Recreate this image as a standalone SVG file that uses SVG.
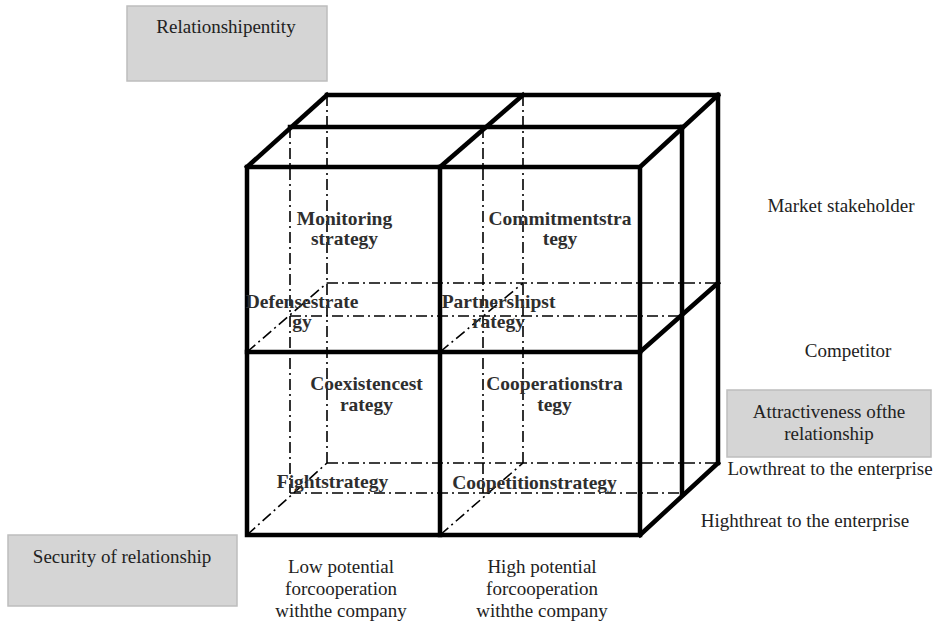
<svg xmlns="http://www.w3.org/2000/svg" width="941" height="625" viewBox="0 0 941 625">
  <style>
    .edge { stroke: #000; stroke-width: 4.5; fill: none; stroke-linecap: square; stroke-linejoin: miter; }
    .hidden { stroke: #000; stroke-width: 1.6; fill: none; stroke-dasharray: 11 4 2 4; }
    .cell { font-family: "Liberation Serif", "Times New Roman", serif; font-weight: bold; font-size: 19.5px; fill: #2e2e2e; text-anchor: middle; }
    .label { font-family: "Liberation Serif", "Times New Roman", serif; font-size: 19px; fill: #222; text-anchor: middle; }
    .box { fill: #d5d5d5; stroke: #bdbdbd; stroke-width: 1.5; }
  </style>

  <!-- cube: hidden (dash-dot) edges first, visible thick edges on top -->
  <g id="connectors">
    <g id="hidden-edges">
      <!-- back layer -->
      <line class="hidden" x1="327" y1="95" x2="327" y2="463"/>
      <line class="hidden" x1="523" y1="95" x2="523" y2="463"/>
      <line class="hidden" x1="327" y1="283" x2="718" y2="283"/>
      <line class="hidden" x1="327" y1="463" x2="718" y2="463"/>
      <!-- middle layer -->
      <line class="hidden" x1="290" y1="127" x2="290" y2="493"/>
      <line class="hidden" x1="483" y1="127" x2="483" y2="493"/>
      <line class="hidden" x1="290" y1="316" x2="682" y2="316"/>
      <line class="hidden" x1="290" y1="493" x2="682" y2="493"/>
      <!-- receding diagonals -->
      <line class="hidden" x1="247" y1="352" x2="327" y2="283"/>
      <line class="hidden" x1="440" y1="352" x2="523" y2="283"/>
      <line class="hidden" x1="247" y1="535" x2="327" y2="463"/>
      <line class="hidden" x1="440" y1="535" x2="523" y2="463"/>
    </g>
    <g id="visible-edges">
      <!-- back and middle tops / right sides -->
      <line class="edge" x1="327" y1="95" x2="718" y2="95"/>
      <line class="edge" x1="718" y1="95" x2="718" y2="463"/>
      <line class="edge" x1="290" y1="127" x2="682" y2="127"/>
      <line class="edge" x1="682" y1="127" x2="682" y2="493"/>
      <!-- top and right diagonals -->
      <line class="edge" x1="247" y1="167" x2="327" y2="95"/>
      <line class="edge" x1="440" y1="167" x2="523" y2="95"/>
      <line class="edge" x1="640" y1="167" x2="718" y2="95"/>
      <line class="edge" x1="640" y1="352" x2="718" y2="283"/>
      <line class="edge" x1="640" y1="535" x2="718" y2="463"/>
      <!-- front face -->
      <rect class="edge" x="247" y="167" width="393" height="368"/>
      <line class="edge" x1="440" y1="167" x2="440" y2="535"/>
      <line class="edge" x1="247" y1="352" x2="640" y2="352"/>
    </g>
  </g>

  <!-- strategy cells -->
  <g id="monitoring">
    <text class="cell" x="344.5" y="225">Monitoring</text>
    <text class="cell" x="344.5" y="245">strategy</text>
  </g>
  <g id="commitment">
    <text class="cell" x="560" y="225">Commitmentstra</text>
    <text class="cell" x="560" y="245">tegy</text>
  </g>
  <g id="defense">
    <text class="cell" x="302" y="308">Defensestrate</text>
    <text class="cell" x="302" y="328">gy</text>
  </g>
  <g id="partnership">
    <text class="cell" x="498.5" y="308">Partnershipst</text>
    <text class="cell" x="498.5" y="328">rategy</text>
  </g>
  <g id="coexistence">
    <text class="cell" x="366.5" y="390">Coexistencest</text>
    <text class="cell" x="366.5" y="411">rategy</text>
  </g>
  <g id="cooperation">
    <text class="cell" x="554.5" y="390">Cooperationstra</text>
    <text class="cell" x="554.5" y="411">tegy</text>
  </g>
  <g id="fight">
    <text class="cell" x="332.5" y="488">Fightstrategy</text>
  </g>
  <g id="coopetition">
    <text class="cell" x="534.5" y="489">Coopetitionstrategy</text>
  </g>

  <!-- axis titles -->
  <g id="relationship-entity">
    <rect class="box" x="127" y="6" width="200" height="75"/>
    <text class="label" x="226" y="33">Relationshipentity</text>
  </g>
  <g id="attractiveness">
    <rect class="box" x="727" y="390" width="204" height="67"/>
    <text class="label" x="829" y="418">Attractiveness ofthe</text>
    <text class="label" x="829" y="440">relationship</text>
  </g>
  <g id="security">
    <rect class="box" x="8" y="535" width="229" height="71"/>
    <text class="label" x="122" y="563">Security of relationship</text>
  </g>

  <!-- axis values -->
  <g id="market-stakeholder">
    <text class="label" x="841" y="212">Market stakeholder</text>
  </g>
  <g id="competitor">
    <text class="label" x="848" y="357">Competitor</text>
  </g>
  <g id="low-threat">
    <text class="label" x="830" y="475">Lowthreat to the enterprise</text>
  </g>
  <g id="high-threat">
    <text class="label" x="805" y="527">Highthreat to the enterprise</text>
  </g>
  <g id="low-potential">
    <text class="label" x="341" y="573">Low potential</text>
    <text class="label" x="341" y="595">forcooperation</text>
    <text class="label" x="341" y="617">withthe company</text>
  </g>
  <g id="high-potential">
    <text class="label" x="542" y="573">High potential</text>
    <text class="label" x="542" y="595">forcooperation</text>
    <text class="label" x="542" y="617">withthe company</text>
  </g>
</svg>
